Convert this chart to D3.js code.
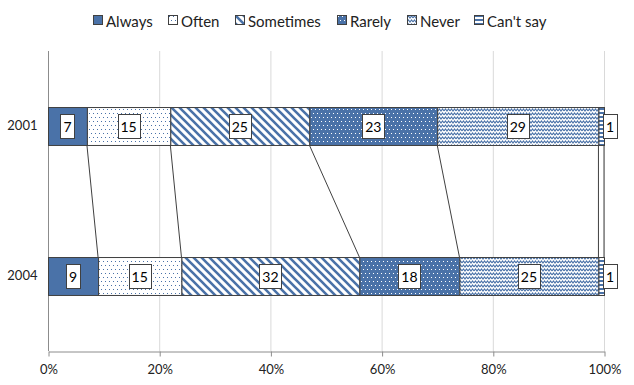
<!DOCTYPE html>
<html>
<head>
<meta charset="utf-8">
<script src="https://cdn.jsdelivr.net/npm/d3@7.9.0/dist/d3.min.js"></script>
<style>
  body { margin: 0; background: #fff; }
  svg { font-family: Lato, "Liberation Sans", sans-serif; }
</style>
</head>
<body>
<svg id="chart" width="634" height="385"></svg>
<script>
const years = ["2001", "2004"];
const answers = ["Always", "Often", "Sometimes", "Rarely", "Never", "Can't say"];
const values2001 = [7, 15, 25, 23, 29, 1];
const values2004 = [9, 15, 32, 18, 25, 1];
const ticks = [0, 20, 40, 60, 80, 100];

const blue = "#4a72a8";
const edge = "#404040";
const font = "Lato, 'Liberation Sans', sans-serif";

const svg = d3.select("#chart");
const x = d3.scaleLinear().domain([0, 100]).range([48, 604]);
const y = d3.scaleBand().domain(years).range([51, 351])
  .paddingInner(0.747).paddingOuter(0.3735);

// fill patterns, one per answer
const defs = svg.append("defs");
function pat(id, w, h) {
  return defs.append("pattern").attr("id", id)
    .attr("patternUnits", "userSpaceOnUse").attr("width", w).attr("height", h);
}
function dots(p, c) {
  [[1, 1], [5, 1], [3, 5], [7, 5]].forEach(([a, b]) =>
    p.append("rect").attr("x", a).attr("y", b).attr("width", 1).attr("height", 1).attr("fill", c));
}
let p = pat("p0", 4, 4);
p.append("rect").attr("width", 4).attr("height", 4).attr("fill", blue);

p = pat("p1", 8, 8);
p.append("rect").attr("width", 8).attr("height", 8).attr("fill", "#fff");
dots(p, blue);

p = pat("p2", 8, 8);
p.append("rect").attr("width", 8).attr("height", 8).attr("fill", "#fff");
p.append("path").attr("d", "M-2,-2L10,10M-6,2L2,10M6,-2L14,6")
  .attr("stroke", blue).attr("stroke-width", 2.6);

p = pat("p3", 8, 8);
p.append("rect").attr("width", 8).attr("height", 8).attr("fill", blue);
dots(p, "#fff");

p = pat("p4", 6, 4);
p.append("rect").attr("width", 6).attr("height", 4).attr("fill", "#fff");
p.append("path").attr("d", "M0,3L1.5,1L3,3L4.5,1L6,3")
  .attr("fill", "none").attr("stroke", blue).attr("stroke-width", 1.1);

p = pat("p5", 4, 4);
p.append("rect").attr("width", 4).attr("height", 4).attr("fill", "#fff");
p.append("rect").attr("y", 0).attr("width", 4).attr("height", 2).attr("fill", blue);

// gridlines
svg.append("g").selectAll("line").data(ticks.slice(1)).join("line")
  .attr("x1", d => x(d) + 0.5).attr("x2", d => x(d) + 0.5)
  .attr("y1", 51).attr("y2", 351)
  .attr("stroke", "#d9d9d9");

// x axis
const xAxis = svg.append("g").attr("transform", "translate(0.5,351.5)")
  .call(d3.axisBottom(x).tickValues(ticks).tickFormat(d => d + "%").tickSize(5).tickSizeOuter(0));
xAxis.select(".domain").attr("stroke", "#8c8c8c");
xAxis.selectAll(".tick line").attr("stroke", "#8c8c8c");
xAxis.selectAll("text").attr("font-size", 13).attr("fill", "#222")
  .attr("font-family", font).attr("dy", "1.1em");

// y axis
const yAxis = svg.append("g").attr("transform", "translate(48.5,0)")
  .call(d3.axisLeft(y).tickSize(0).tickSizeOuter(0).tickPadding(11));
yAxis.select(".domain").attr("stroke", "#8c8c8c").attr("d", "M0,51V351");
yAxis.selectAll("text").attr("font-size", 13).attr("fill", "#222")
  .attr("font-family", font);

// stacked data
const table = years.map((yr, i) => {
  const vals = i === 0 ? values2001 : values2004;
  let acc = 0;
  return vals.map((v, k) => {
    const seg = { year: yr, k, v, x0: acc, x1: acc + v };
    acc += v;
    return seg;
  });
});

// series lines between the two bars
const lines = answers.map((a, k) => [table[0][k], table[1][k]]);
svg.append("g").selectAll("line").data(lines).join("line")
  .attr("x1", d => x(d[0].x1)).attr("x2", d => x(d[1].x1))
  .attr("y1", y(years[0]) + y.bandwidth()).attr("y2", y(years[1]))
  .attr("stroke", edge).attr("stroke-width", 1);

// bars
const segs = table.flat();
svg.append("g").selectAll("rect").data(segs).join("rect")
  .attr("x", d => x(d.x0) + 0.5)
  .attr("y", d => y(d.year) + 0.5)
  .attr("width", d => x(d.x1) - x(d.x0))
  .attr("height", y.bandwidth())
  .attr("fill", d => `url(#p${d.k})`)
  .attr("stroke", edge).attr("stroke-width", 1);

// data labels
const lab = svg.append("g").selectAll("g").data(segs).join("g");
lab.each(function (d) {
  const g = d3.select(this);
  const t = g.append("text").text(d.v).attr("font-size", 14).attr("fill", "#000")
    .attr("text-anchor", "middle").attr("dominant-baseline", "central");
  const w = String(d.v).length * 8 + 6;
  const segW = x(d.x1) - x(d.x0);
  let cx = (x(d.x0) + x(d.x1)) / 2;
  if (segW < w) cx = x(d.x1) - 1 + w / 2;
  const cy = y(d.year) + y.bandwidth() / 2;
  g.insert("rect", "text")
    .attr("x", Math.round(cx - w / 2) + 0.5).attr("y", Math.round(cy - 12) + 0.5)
    .attr("width", w).attr("height", 24)
    .attr("fill", "#fff").attr("stroke", edge);
  t.attr("x", cx).attr("y", cy + 0.5);
});

// legend
const legendX = [93, 168, 235, 337, 407, 474];
const leg = svg.append("g").selectAll("g").data(answers).join("g")
  .attr("transform", (d, i) => `translate(${legendX[i]},15)`);
leg.append("rect").attr("x", 0.5).attr("y", 0.5).attr("width", 9).attr("height", 9)
  .attr("fill", (d, i) => `url(#p${i})`).attr("stroke", edge);
leg.append("text").attr("x", 13).attr("y", 5.5).attr("dominant-baseline", "central")
  .attr("font-size", 15).attr("fill", "#222").text(d => d);
</script>
</body>
</html>
